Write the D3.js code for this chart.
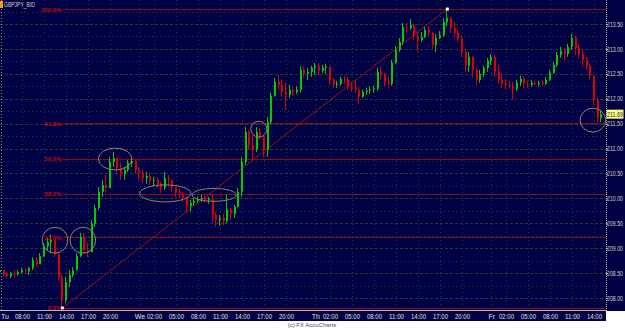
<!DOCTYPE html>
<html>
<head>
<meta charset="utf-8">
<script src="https://cdn.jsdelivr.net/npm/d3@7"></script>
<style>
  body { margin: 0; background: #fff; }
  svg { display: block; }
  text { font-family: "Liberation Sans", Arial, sans-serif; }
</style>
</head>
<body>
<div id="chart"></div>
<script>
const symbol = "GBPJPY_BID"
const copyright = "(c) FX AccuCharts"
const firstBar = new Date(Date.UTC(2008, 0, 8, 5, 0))   // Tue 05:00, 30 min bars
const barMinutes = 30
const firstOpen = 208.52

const highs = [
  208.62, 208.56, 208.52, 208.52, 208.56, 208.56, 208.60, 208.60, 208.62, 208.82,
  208.82, 208.90, 209.10, 209.20, 209.27, 209.16, 208.90, 208.46, 208.42, 208.56,
  208.62, 208.90, 209.31, 209.31, 209.10, 209.57, 209.87, 210.23, 210.37, 210.47,
  210.83, 210.93, 210.83, 210.71, 210.63, 210.77, 210.81, 210.77, 210.63, 210.57,
  210.53, 210.51, 210.43, 210.41, 210.33, 210.53, 210.47, 210.37, 210.23, 210.21,
  210.13, 210.03, 209.97, 210.01, 210.03, 210.07, 210.05, 210.03, 210.07, 209.73,
  209.67, 209.69, 210.07, 209.81, 209.87, 210.21, 210.83, 211.43, 211.37, 211.27,
  211.43, 211.41, 211.27, 211.63, 212.12, 212.42, 212.48, 212.38, 212.32, 212.28,
  212.24, 212.26, 212.64, 212.64, 212.62, 212.66, 212.72, 212.72, 212.68, 212.70,
  212.66, 212.42, 212.36, 212.44, 212.46, 212.44, 212.34, 212.38, 212.24, 212.18,
  212.22, 212.24, 212.26, 212.62, 212.64, 212.52, 212.44, 212.78, 213.06, 213.22,
  213.52, 213.52, 213.60, 213.50, 213.34, 213.34, 213.44, 213.46, 213.34, 213.30,
  213.36, 213.62, 213.80, 213.64, 213.54, 213.38, 213.26, 212.98, 212.94, 212.86,
  212.62, 212.58, 212.66, 212.82, 212.90, 212.88, 212.68, 212.50, 212.40, 212.36,
  212.34, 212.38, 212.46, 212.44, 212.36, 212.38, 212.36, 212.36, 212.38, 212.44,
  212.58, 212.74, 212.94, 213.04, 213.02, 213.10, 213.30, 213.26, 213.10, 212.98,
  212.84, 212.70, 212.48, 212.02, 211.78]

const lows = [
  208.46, 208.42, 208.40, 208.40, 208.42, 208.44, 208.50, 208.48, 208.46, 208.56,
  208.62, 208.68, 208.82, 208.96, 208.90, 208.82, 208.36, 207.80, 207.90, 208.22,
  208.42, 208.56, 208.82, 208.90, 208.82, 208.92, 209.43, 209.77, 210.03, 210.11,
  210.21, 210.63, 210.51, 210.37, 210.37, 210.53, 210.63, 210.51, 210.37, 210.31,
  210.29, 210.27, 210.25, 210.21, 210.11, 210.17, 210.27, 210.13, 210.03, 210.01,
  209.93, 209.71, 209.73, 209.85, 209.91, 209.93, 209.91, 209.89, 209.53, 209.43,
  209.45, 209.47, 209.51, 209.57, 209.61, 209.81, 210.03, 210.67, 210.97, 210.77,
  210.93, 211.17, 210.83, 210.83, 211.49, 212.04, 212.18, 212.04, 211.78, 212.02,
  212.06, 212.10, 212.12, 212.42, 212.38, 212.44, 212.48, 212.48, 212.52, 212.50,
  212.28, 212.22, 212.22, 212.26, 212.30, 212.18, 212.14, 212.12, 211.90, 212.02,
  212.08, 212.10, 212.12, 212.16, 212.38, 212.24, 212.22, 212.26, 212.70, 212.94,
  213.08, 213.32, 213.38, 213.18, 212.94, 213.14, 213.22, 213.26, 212.98, 212.94,
  213.20, 213.24, 213.46, 213.32, 213.24, 213.14, 212.84, 212.54, 212.54, 212.42,
  212.28, 212.32, 212.44, 212.54, 212.68, 212.44, 212.30, 212.22, 212.20, 212.20,
  211.98, 212.16, 212.26, 212.20, 212.22, 212.24, 212.26, 212.24, 212.26, 212.28,
  212.36, 212.50, 212.64, 212.82, 212.78, 212.84, 212.98, 212.88, 212.82, 212.66,
  212.58, 212.38, 211.88, 211.53, 211.53]

const closes = [
  208.56, 208.48, 208.44, 208.50, 208.48, 208.52, 208.56, 208.54, 208.60, 208.76,
  208.68, 208.84, 209.04, 209.12, 209.16, 208.88, 208.42, 207.96, 208.32, 208.46,
  208.56, 208.84, 209.23, 208.96, 208.92, 209.49, 209.81, 210.13, 210.27, 210.21,
  210.73, 210.81, 210.61, 210.49, 210.57, 210.71, 210.75, 210.57, 210.51, 210.41,
  210.45, 210.35, 210.37, 210.29, 210.21, 210.41, 210.37, 210.21, 210.13, 210.09,
  210.01, 209.85, 209.91, 209.95, 209.99, 210.01, 209.97, 209.99, 209.67, 209.57,
  209.61, 209.55, 209.77, 209.69, 209.83, 210.13, 210.73, 211.33, 211.07, 210.97,
  211.33, 211.23, 210.97, 211.53, 212.06, 212.34, 212.28, 212.14, 212.08, 212.18,
  212.14, 212.18, 212.58, 212.50, 212.54, 212.62, 212.66, 212.56, 212.62, 212.64,
  212.38, 212.28, 212.30, 212.40, 212.38, 212.26, 212.22, 212.18, 212.04, 212.14,
  212.16, 212.18, 212.20, 212.54, 212.48, 212.34, 212.30, 212.72, 212.98, 213.14,
  213.44, 213.42, 213.48, 213.26, 213.18, 213.24, 213.38, 213.32, 213.08, 213.22,
  213.28, 213.54, 213.62, 213.42, 213.32, 213.20, 212.94, 212.66, 212.84, 212.58,
  212.38, 212.50, 212.62, 212.76, 212.84, 212.54, 212.38, 212.30, 212.28, 212.26,
  212.20, 212.32, 212.40, 212.30, 212.28, 212.32, 212.30, 212.32, 212.30, 212.38,
  212.52, 212.68, 212.88, 212.96, 212.90, 213.04, 213.22, 213.02, 212.90, 212.78,
  212.66, 212.46, 211.98, 211.61, 211.69]

// fibonacci retracement drawn from the low bar to the high bar
const fibLowBar = 17, fibHighBar = 122
const fibLow = 207.80, fibHigh = 213.80
const fibLevels = [0, 23.6, 38.2, 50.0, 61.8, 100.0]

const priceTicks = [208, 208.5, 209, 209.5, 210, 210.5, 211, 211.5, 212, 212.5, 213, 213.5]
const dayLabels = ["Tu", "We", "Th", "Fr"]
const labelHours = [0, 2, 5, 8, 11, 14, 17, 20]

// ellipse notes: [bar, price, half width in bars, half height in price]
const notes = [
  [15.0, 209.16, 3.5, 0.26],
  [22.6, 209.16, 3.5, 0.26],
  [31.4, 210.79, 4.6, 0.22],
  [45.1, 210.10, 7.0, 0.17],
  [58.4, 210.07, 6.0, 0.13],
  [70.6, 211.39, 2.2, 0.16],
  [161.7, 211.57, 3.5, 0.24]
]

const plotW = 606, plotH = 311
const navy = "#000044"
const gridColor = "#2c3a2e"

const barTime = i => d3.utcMinute.offset(firstBar, i * barMinutes)

let svg = d3.select("#chart")
            .append("svg")
            .attr("width", 625)
            .attr("height", 328)

svg.append("rect").attr("width", 625).attr("height", 328).attr("fill", "#fff")
svg.append("rect").attr("width", 625).attr("height", plotH).attr("fill", navy)
svg.append("rect").attr("y", plotH).attr("width", plotW).attr("height", 10).attr("fill", navy)

let x = d3.scaleUtc()
          .domain([firstBar, d3.utcMinute.offset(firstBar, 82.5 * 60)])
          .range([0, 605])

let y = d3.scaleLinear()
          .domain([208, 213.5])
          .range([298, 24])

svg.append("clipPath").attr("id", "plot")
   .append("rect").attr("width", plotW).attr("height", plotH)

let plot = svg.append("g").attr("clip-path", "url(#plot)")

// grid
let gridPrices = d3.range(207.75, 214.01, 0.25).filter(p => y(p) > 0 && y(p) < plotH)
plot.append("g").selectAll("line")
    .data(gridPrices)
    .join("line")
    .attr("x1", 0).attr("x2", plotW)
    .attr("y1", d => Math.round(y(d)) + 0.5)
    .attr("y2", d => Math.round(y(d)) + 0.5)
    .attr("stroke", gridColor)
    .attr("stroke-dasharray", d => Math.abs(d * 2 - Math.round(d * 2)) < 1e-6 ? "3,2" : "1,3")

let tickTimes = d3.utcHour.range(x.domain()[0], x.domain()[1])
                  .filter(d => d > x.domain()[0] && labelHours.includes(d.getUTCHours()))

plot.append("g").selectAll("line")
    .data(tickTimes)
    .join("line")
    .attr("x1", d => Math.round(x(d)) + 0.5)
    .attr("x2", d => Math.round(x(d)) + 0.5)
    .attr("y1", 0).attr("y2", plotH)
    .attr("stroke", gridColor)
    .attr("stroke-dasharray", "1,3")

// fib lines
let fibX = x(barTime(fibLowBar))
let fibPrice = lv => fibLow + (fibHigh - fibLow) * lv / 100
plot.append("g").selectAll("line")
    .data(fibLevels)
    .join("line")
    .attr("x1", fibX).attr("x2", plotW)
    .attr("y1", d => Math.round(y(fibPrice(d))) + 0.5)
    .attr("y2", d => Math.round(y(fibPrice(d))) + 0.5)
    .attr("stroke", "#940a0a")

svg.append("g").selectAll("text")
   .data(fibLevels)
   .join("text")
   .attr("x", fibX - 1)
   .attr("y", d => y(fibPrice(d)) + 2.5)
   .attr("text-anchor", "end")
   .attr("font-size", 6)
   .attr("font-weight", "bold")
   .attr("fill", "#d40000")
   .text(d => d3.format(".1f")(d) + "%")

// trend line low -> high
plot.append("line")
    .attr("x1", x(barTime(fibLowBar))).attr("y1", y(fibLow))
    .attr("x2", x(barTime(fibHighBar))).attr("y2", y(fibHigh))
    .attr("stroke", "#9a1010")

// candles
let bars = closes.map((c, i) => ({
  t: barTime(i),
  o: i === 0 ? firstOpen : closes[i - 1],
  h: highs[i], l: lows[i], c: c
}))

let candle = plot.append("g").selectAll("g")
                 .data(bars)
                 .join("g")
                 .attr("fill", d => d.c >= d.o ? "#00cc00" : "#dd0000")
                 .attr("stroke", d => d.c >= d.o ? "#00cc00" : "#dd0000")

candle.append("line")
      .attr("x1", d => Math.round(x(d.t)) - 0.5)
      .attr("x2", d => Math.round(x(d.t)) - 0.5)
      .attr("y1", d => y(d.h))
      .attr("y2", d => y(d.l))

candle.append("rect")
      .attr("stroke", "none")
      .attr("x", d => Math.round(x(d.t)) - 1)
      .attr("width", 2)
      .attr("y", d => y(Math.max(d.o, d.c)))
      .attr("height", d => Math.max(1, y(Math.min(d.o, d.c)) - y(Math.max(d.o, d.c))))

// end markers of the trend line
plot.selectAll(".marker")
    .data([[fibLowBar, fibLow], [fibHighBar, fibHigh]])
    .join("rect")
    .attr("x", d => x(barTime(d[0])) - 1.5)
    .attr("y", d => y(d[1]) - 1.5)
    .attr("width", 3).attr("height", 3)
    .attr("fill", "#fff")

// ellipses
let bw = x(barTime(1)) - x(barTime(0))
plot.append("g").selectAll("ellipse")
    .data(notes)
    .join("ellipse")
    .attr("cx", d => x(barTime(d[0])))
    .attr("cy", d => y(d[1]))
    .attr("rx", d => d[2] * bw)
    .attr("ry", d => y(d[1] - d[3]) - y(d[1]))
    .attr("fill", "none")
    .attr("stroke", "#8c8668")

// right price axis
let yAxis = svg.append("g")
               .attr("transform", "translate(" + plotW + ",0)")
               .call(d3.axisRight(y).tickValues(priceTicks).tickFormat(d3.format(".2f")).tickSize(2))
yAxis.select(".domain").remove()
yAxis.selectAll("line").attr("stroke", "#c8c070")
yAxis.selectAll("text")
     .attr("x", 1)
     .attr("font-size", 6.5)
     .attr("font-family", "Liberation Sans")
     .attr("fill", "#d4d4c4")
     .attr("textLength", 16)
     .attr("lengthAdjust", "spacingAndGlyphs")

svg.append("line")
   .attr("x1", plotW + 0.5).attr("x2", plotW + 0.5)
   .attr("y1", 0).attr("y2", plotH + 1)
   .attr("stroke", "#c8c070")
   .attr("stroke-dasharray", "1,1")
svg.append("line")
   .attr("x1", 1.5).attr("x2", 1.5)
   .attr("y1", 0).attr("y2", plotH)
   .attr("stroke", "#8c8a50")
   .attr("stroke-dasharray", "1,2")
svg.append("line")
   .attr("x1", 0).attr("x2", plotW)
   .attr("y1", plotH - 0.5).attr("y2", plotH - 0.5)
   .attr("stroke", "#b8b8a0")

// last price box
let last = closes[closes.length - 1]
svg.append("rect")
   .attr("x", plotW + 0.5).attr("y", y(last) - 4.5)
   .attr("width", 17).attr("height", 9)
   .attr("fill", "#ffff88")
svg.append("text")
   .attr("x", plotW + 1).attr("y", y(last) + 2.5)
   .attr("font-size", 6.5)
   .attr("fill", "#202020")
   .attr("textLength", 16)
   .attr("lengthAdjust", "spacingAndGlyphs")
   .text(d3.format(".2f")(last))

// time axis
let dayFmt = d => dayLabels[d3.utcDay.count(d3.utcDay.floor(firstBar), d)]
let xAxis = svg.append("g")
               .attr("transform", "translate(0," + plotH + ")")
               .call(d3.axisBottom(x).tickValues(tickTimes)
                       .tickFormat(d => d.getUTCHours() === 0 ? dayFmt(d) : d3.utcFormat("%H:%M")(d))
                       .tickSize(0))
xAxis.select(".domain").remove()
xAxis.selectAll("text")
     .attr("y", 7.5)
     .attr("dy", 0)
     .attr("font-size", 7)
     .attr("font-family", "Liberation Sans")
     .attr("fill", "#e0e0e0")
     .each(function(d) {
       if (d.getUTCHours() !== 0) d3.select(this).attr("textLength", 15).attr("lengthAdjust", "spacingAndGlyphs")
     })

svg.append("text")
   .attr("x", 1).attr("y", plotH + 7.5)
   .attr("font-size", 7)
   .attr("fill", "#e0e0e0")
   .text(dayLabels[0])

// symbol title
svg.append("rect").attr("x", 0).attr("y", 1).attr("width", 3).attr("height", 7).attr("fill", "#f0a020")
svg.append("text")
   .attr("x", 4).attr("y", 7)
   .attr("font-size", 6.5)
   .attr("fill", "#d8d8b8")
   .attr("textLength", 31)
   .attr("lengthAdjust", "spacingAndGlyphs")
   .text(symbol)

svg.append("text")
   .attr("x", 312).attr("y", 327)
   .attr("text-anchor", "middle")
   .attr("font-size", 6)
   .attr("fill", "#505050")
   .text(copyright)
</script>
</body>
</html>
